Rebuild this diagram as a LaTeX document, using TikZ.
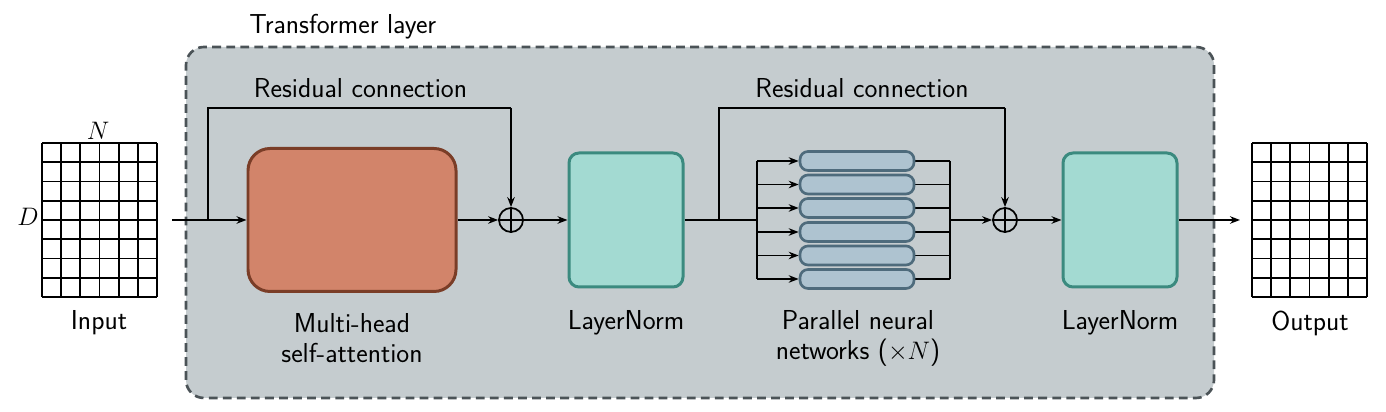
\documentclass[tikz,border=0pt]{standalone}
\usetikzlibrary{arrows.meta}
\pgfdeclarelayer{bglayer}
\pgfdeclarelayer{edgelayer}
\pgfdeclarelayer{nodelayer}
\pgfsetlayers{bglayer,edgelayer,nodelayer,main}
\definecolor{layerfill}{HTML}{C5CCCF}
\definecolor{layerline}{HTML}{4B5357}
\definecolor{attnfill}{HTML}{D2846A}
\definecolor{attnline}{HTML}{7A3D27}
\definecolor{normfill}{HTML}{A3DAD2}
\definecolor{normline}{HTML}{3B8A7F}
\definecolor{netfill}{HTML}{AEC3D0}
\definecolor{netline}{HTML}{4E6B7C}
\tikzset{font=\sffamily\fontsize{15.6}{17}\selectfont}
\tikzstyle{none}=[inner sep=0pt]
\tikzstyle{attn}=[draw=attnline,fill=attnfill,line width=1.7pt,rounded corners=0.44cm,minimum width=4.16cm,minimum height=2.86cm]
\tikzstyle{norm}=[draw=normline,fill=normfill,line width=1.7pt,rounded corners=0.2cm,minimum width=2.28cm,minimum height=2.68cm]
\tikzstyle{net}=[draw=netline,fill=netfill,line width=1.5pt,rounded corners=0.16cm,minimum width=2.28cm,minimum height=0.38cm,inner sep=0pt]
\tikzstyle{sum}=[circle,draw,line width=1pt,minimum size=0.48cm,inner sep=0pt]
\tikzstyle{lbl}=[align=center,inner sep=0pt]
\tikzstyle{wire}=[line width=1pt]
\tikzstyle{arr}=[line width=1pt,-{Stealth[length=0.2cm,width=0.15cm]}]
% token matrix, 6 x 8 cells, lower left corner at #1
\newcommand{\tokengrid}[1]{
	\begin{scope}[shift={#1}]
		\foreach \i in {0,...,6} \draw[wire] (\i*0.3833,0) -- (\i*0.3833,3.08);
		\foreach \j in {0,...,8} \draw[wire] (0,\j*0.385) -- (2.3,\j*0.385);
	\end{scope}
}

\begin{document}
\begin{tikzpicture}
	\useasboundingbox (0,0) rectangle (27.72,8.24);
	\begin{pgfonlayer}{bglayer}
		\draw[draw=layerline,fill=layerfill,line width=1.5pt,dash pattern=on 5pt off 3pt,rounded corners=0.36cm] (3.72,0.28) rectangle (24.28,7.30);
	\end{pgfonlayer}
	\begin{pgfonlayer}{nodelayer}
		\node [style=none] (0) at (3.44, 3.84) {};
		\node [style=none] (1) at (4.16, 3.84) {};
		\node [style=none] (2) at (4.16, 6.08) {};
		\node [style=none] (3) at (10.22, 6.08) {};
		\node [style=attn] (4) at (7.04, 3.84) {};
		\node [style=sum] (5) at (10.22, 3.84) {};
		\node [style=norm] (6) at (12.52, 3.84) {};
		\node [style=none] (7) at (14.38, 3.84) {};
		\node [style=none] (8) at (14.38, 6.08) {};
		\node [style=none] (9) at (20.10, 6.08) {};
		\node [style=none] (10) at (15.14, 3.84) {};
		\node [style=net] (11) at (17.14, 5.02) {};
		\node [style=net] (12) at (17.14, 4.55) {};
		\node [style=net] (13) at (17.14, 4.08) {};
		\node [style=net] (14) at (17.14, 3.60) {};
		\node [style=net] (15) at (17.14, 3.13) {};
		\node [style=net] (16) at (17.14, 2.66) {};
		\node [style=none] (17) at (19.00, 3.84) {};
		\node [style=sum] (18) at (20.10, 3.84) {};
		\node [style=norm] (19) at (22.40, 3.84) {};
		\node [style=none] (20) at (24.80, 3.84) {};
		\node [style=lbl, anchor=west] (21) at (4.98, 7.70) {Transformer layer};
		\node [style=lbl] (22) at (7.21, 6.48) {Residual connection};
		\node [style=lbl] (23) at (17.24, 6.48) {Residual connection};
		\node [style=lbl] (24) at (1.98, 1.78) {Input};
		\node [style=lbl] (25) at (26.20, 1.78) {Output};
		\node [style=lbl] (26) at (7.04, 1.48) {Multi-head\\self-attention};
		\node [style=lbl] (27) at (12.52, 1.78) {LayerNorm};
		\node [style=lbl] (28) at (17.16, 1.48) {Parallel neural\\networks ($\times N$)};
		\node [style=lbl] (29) at (22.40, 1.78) {LayerNorm};
		\node [style=lbl] (30) at (1.96, 5.62) {$N$};
		\node [style=lbl] (31) at (0.56, 3.90) {$D$};
	\end{pgfonlayer}
	\begin{pgfonlayer}{edgelayer}
		\tokengrid{(0.84,2.30)}
		\tokengrid{(25.04,2.30)}
		\draw[arr] (0.center) to (4);
		\draw[wire] (1.center) to (2.center) to (3.center);
		\draw[arr] (3.center) to (5);
		\draw[arr] (4) to (5);
		\draw[arr] (5) to (6);
		\draw[wire] (5.north) to (5.south);
		\draw[wire] (5.west) to (5.east);
		\draw[wire] (6) to (10.center);
		\draw[wire] (7.center) to (8.center) to (9.center);
		\draw[arr] (9.center) to (18);
		\draw[wire] (11.west -| 10) to (16.west -| 10);
		\draw[arr] (11.west -| 10) to (11);
		\draw[arr] (12.west -| 10) to (12);
		\draw[arr] (13.west -| 10) to (13);
		\draw[arr] (14.west -| 10) to (14);
		\draw[arr] (15.west -| 10) to (15);
		\draw[arr] (16.west -| 10) to (16);
		\draw[wire] (11) to (11.east -| 17);
		\draw[wire] (12) to (12.east -| 17);
		\draw[wire] (13) to (13.east -| 17);
		\draw[wire] (14) to (14.east -| 17);
		\draw[wire] (15) to (15.east -| 17);
		\draw[wire] (16) to (16.east -| 17);
		\draw[wire] (11.east -| 17) to (16.east -| 17);
		\draw[arr] (17.center) to (18);
		\draw[arr] (18) to (19);
		\draw[wire] (18.north) to (18.south);
		\draw[wire] (18.west) to (18.east);
		\draw[arr] (19) to (20.center);
	\end{pgfonlayer}
\end{tikzpicture}
\end{document}
